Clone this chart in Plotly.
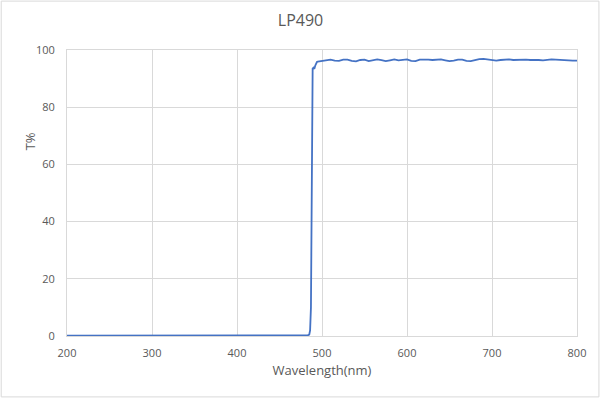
import plotly.graph_objects as go

# Wavelength (nm) and transmission (%)
wl_block = [200, 250, 300, 350, 400, 450, 480, 483, 485, 486, 487, 487.5, 488, 488.5, 489, 490, 491, 492, 493, 494]
t_block = [0.1, 0.1, 0.1, 0.1, 0.1, 0.1, 0.1, 0.2, 0.5, 2.0, 10.0, 40.0, 75.0, 90.0, 93.5, 93.8, 93.4, 94.5, 95.5, 95.8]

wl_pass = [495, 500, 505, 510, 515, 520, 525, 530, 535, 540, 545, 550, 555, 560, 565, 570,
           575, 580, 585, 590, 595, 600, 605, 610, 615, 620, 625, 630, 635, 640, 645, 650,
           655, 660, 665, 670, 675, 680, 685, 690, 695, 700, 705, 710, 715, 720, 725, 730,
           735, 740, 745, 750, 755, 760, 765, 770, 775, 780, 785, 790, 795, 800]
t_pass = [95.9, 96.2, 96.5, 96.6, 96.3, 96.2, 96.6, 96.6, 96.2, 96.0, 96.5, 96.6, 96.1, 96.3, 96.7, 96.5,
          96.1, 96.4, 96.7, 96.4, 96.6, 96.7, 96.2, 96.1, 96.6, 96.7, 96.6, 96.5, 96.6, 96.7, 96.4, 96.1,
          96.3, 96.6, 96.6, 96.2, 96.1, 96.5, 96.8, 96.9, 96.7, 96.3, 96.3, 96.5, 96.6, 96.7, 96.5, 96.6,
          96.5, 96.6, 96.5, 96.6, 96.5, 96.4, 96.6, 96.7, 96.6, 96.6, 96.5, 96.4, 96.3, 96.3]

x_ticks = [200, 300, 400, 500, 600, 700, 800]
y_ticks = [0, 20, 40, 60, 80, 100]

wavelength = wl_block + wl_pass
transmission = t_block + t_pass

FONT = "Open Sans"
GREY = "#595959"
GRID = "#D9D9D9"

fig = go.Figure()
fig.add_trace(go.Scatter(x=wavelength, y=transmission, mode="lines",
                         line=dict(color="#4472C4", width=1.8), showlegend=False))

fig.update_layout(
    width=601, height=401,
    margin=dict(l=67, r=24, t=50, b=65),
    paper_bgcolor="white", plot_bgcolor="white",
    font=dict(family=FONT, color=GREY, size=11),
    title=dict(text="LP490", x=0.5, xanchor="center", y=0.95, yanchor="middle",
               font=dict(family=FONT, size=16, color=GREY)),
    xaxis=dict(range=[200, 800], tickvals=x_ticks, showgrid=True, gridcolor=GRID, gridwidth=1,
               showline=True, linecolor=GRID, mirror=True, zeroline=False,
               ticks="", ticklabelstandoff=7,
               title=dict(text="Wavelength(nm)", font=dict(size=13, color=GREY), standoff=6),
               tickfont=dict(size=11, color=GREY)),
    yaxis=dict(range=[0, 100], tickvals=y_ticks, showgrid=True, gridcolor=GRID, gridwidth=1,
               showline=True, linecolor=GRID, mirror=True, zeroline=False,
               ticks="", ticklabelstandoff=9,
               tickfont=dict(size=11, color=GREY)),
    annotations=[dict(text="T%", xref="paper", yref="paper", x=-0.073, y=0.68,
                      xanchor="center", yanchor="middle", textangle=-90, showarrow=False,
                      font=dict(family=FONT, size=13, color=GREY))],
    shapes=[dict(type="rect", xref="paper", yref="paper", x0=-0.129, x1=1.043, y0=-0.213, y1=1.171,
                 line=dict(color=GRID, width=1), fillcolor="rgba(0,0,0,0)", layer="below")],
)

fig.write_html("out.html", config={"displayModeBar": False},
               post_script="document.body.style.margin='0';document.body.style.padding='0';document.body.style.overflow='hidden';")
